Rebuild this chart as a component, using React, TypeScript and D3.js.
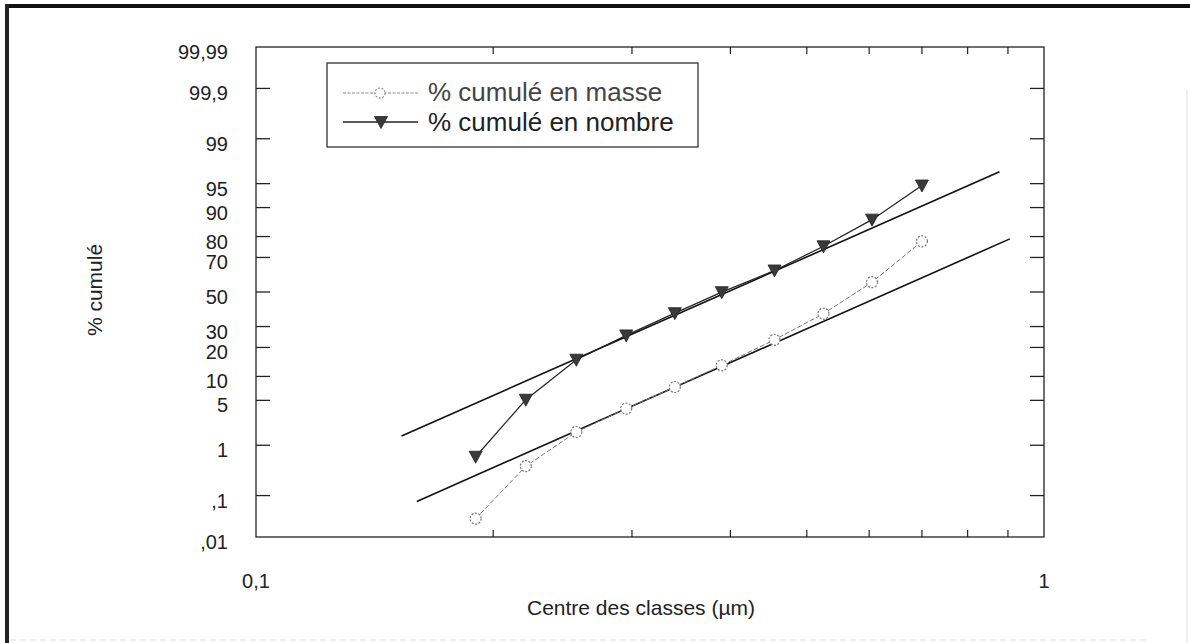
import React from "react";
import * as d3 from "d3";

// ---- data ----
const classCentres = [0.19, 0.22, 0.255, 0.295, 0.34, 0.39, 0.455, 0.525, 0.605, 0.7];
const cumNombre = [0.62, 5.1, 15.2, 25.5, 37.4, 49.9, 62.8, 75.6, 86.4, 94.7];
const cumMasse = [0.029, 0.41, 1.68, 3.84, 7.46, 13.3, 23.4, 37.1, 55.9, 77.9];
const fitNombreX = [0.153, 0.878];
const fitNombreP = [1.44, 96.6];
const fitMasseX = [0.16, 0.905];
const fitMasseP = [0.074, 79.0];
const yTickValues = [0.01, 0.1, 1, 5, 10, 20, 30, 50, 70, 80, 90, 95, 99, 99.9, 99.99];
const yTickLabels = [",01", ",1", "1", "5", "10", "20", "30", "50", "70", "80", "90", "95", "99", "99,9", "99,99"];
const xMinorTicks = [0.2, 0.3, 0.4, 0.5, 0.6, 0.7, 0.8, 0.9];
const xLabelValues = [0.1, 1];
const xLabelTexts = ["0,1", "1"];
const legendLabels = ["% cumulé en masse", "% cumulé en nombre"];

// inverse normal CDF (Acklam)
function probit(p: number): number {
  const a = [-3.969683028665376e1, 2.209460984245205e2, -2.759285104469687e2, 1.38357751867269e2, -3.066479806614716e1, 2.506628277459239];
  const b = [-5.447609879822406e1, 1.615858368580409e2, -1.556989798598866e2, 6.680131188771972e1, -1.328068155288572e1];
  const c = [-7.784894002430293e-3, -3.223964580411365e-1, -2.400758277161838, -2.549732539343734, 4.374664141464968, 2.938163982698783];
  const d = [7.784695709041462e-3, 3.224671290700398e-1, 2.445134137142996, 3.754408661907416];
  const pl = 0.02425;
  if (p < pl) {
    const q = Math.sqrt(-2 * Math.log(p));
    return (((((c[0] * q + c[1]) * q + c[2]) * q + c[3]) * q + c[4]) * q + c[5]) / ((((d[0] * q + d[1]) * q + d[2]) * q + d[3]) * q + 1);
  }
  if (p > 1 - pl) {
    const q = Math.sqrt(-2 * Math.log(1 - p));
    return -(((((c[0] * q + c[1]) * q + c[2]) * q + c[3]) * q + c[4]) * q + c[5]) / ((((d[0] * q + d[1]) * q + d[2]) * q + d[3]) * q + 1);
  }
  const q = p - 0.5;
  const r = q * q;
  return ((((((a[0] * r + a[1]) * r + a[2]) * r + a[3]) * r + a[4]) * r + a[5]) * q) / (((((b[0] * r + b[1]) * r + b[2]) * r + b[3]) * r + b[4]) * r + 1);
}

const W = 1190;
const H = 643;
const left = 256;
const right = 1044;
const top = 47;
const bottom = 537;

const x = d3.scaleLog().domain([0.1, 1]).range([left, right]);
const z = d3.scaleLinear().domain([probit(0.0001), probit(0.9999)]).range([bottom, top]);
const y = (p: number) => z(probit(p / 100));

const FONT = "'Liberation Sans', Arial, Helvetica, sans-serif";

export default function App() {
  const nombre = classCentres.map((c, i) => ({ x: c, p: cumNombre[i] }));
  const masse = classCentres.map((c, i) => ({ x: c, p: cumMasse[i] }));
  const line = d3
    .line<{ x: number; p: number }>()
    .x((d) => x(d.x))
    .y((d) => y(d.p));
  const fitN = fitNombreX.map((v, i) => ({ x: v, p: fitNombreP[i] }));
  const fitM = fitMasseX.map((v, i) => ({ x: v, p: fitMasseP[i] }));
  const tri = (cx: number, cy: number) => `M${cx - 6.5},${cy - 5.5}L${cx + 6.5},${cy - 5.5}L${cx},${cy + 6.5}Z`;
  const innerTicks = yTickValues.filter((v) => v !== 0.01 && v !== 99.99);

  return (
    <svg width={W} height={H} style={{ position: "absolute", left: 0, top: 0, background: "#fff" }} fontFamily={FONT}>
      {/* page frame */}
      <line x1={5} y1={6} x2={1190} y2={6} stroke="#111" strokeWidth={4} />
      <line x1={7} y1={4} x2={7} y2={643} stroke="#222" strokeWidth={4} />
      <line x1={1187} y1={90} x2={1187} y2={643} stroke="#ddd" strokeWidth={1} />
      <line x1={10} y1={640} x2={1150} y2={640} stroke="#ddd" strokeWidth={1} strokeDasharray="6,4" />

      {/* plot frame */}
      <rect x={left} y={top} width={right - left} height={bottom - top} fill="none" stroke="#222" strokeWidth={1.3} />

      {/* y ticks left & right */}
      {innerTicks.map((v) => (
        <g key={"yt" + v}>
          <line x1={left} x2={left + 14} y1={y(v)} y2={y(v)} stroke="#222" strokeWidth={1.3} />
          <line x1={right - 14} x2={right} y1={y(v)} y2={y(v)} stroke="#222" strokeWidth={1.3} />
        </g>
      ))}
      {yTickValues.map((v, i) => (
        <text key={"yl" + v} x={228} y={y(v) + 5} dy="0.35em" textAnchor="end" fontSize={20} fill="#222">
          {yTickLabels[i]}
        </text>
      ))}

      {/* x ticks bottom & top */}
      {xMinorTicks.map((v) => (
        <g key={"xt" + v}>
          <line x1={x(v)} x2={x(v)} y1={bottom} y2={bottom - 7} stroke="#222" strokeWidth={1.2} />
          <line x1={x(v)} x2={x(v)} y1={top} y2={top + 7} stroke="#222" strokeWidth={1.2} />
        </g>
      ))}
      {xLabelValues.map((v, i) => (
        <text key={"xl" + v} x={x(v)} y={581} dy="0.35em" textAnchor="middle" fontSize={20} fill="#222">
          {xLabelTexts[i]}
        </text>
      ))}

      {/* axis titles */}
      <text x={641} y={608} dy="0.35em" textAnchor="middle" fontSize={21} fill="#222">
        Centre des classes (µm)
      </text>
      <text transform="translate(95,290) rotate(-90)" dy="0.35em" textAnchor="middle" fontSize={21} fill="#222">
        % cumulé
      </text>

      {/* fit lines */}
      <path d={line(fitN) || ""} fill="none" stroke="#111" strokeWidth={1.6} />
      <path d={line(fitM) || ""} fill="none" stroke="#111" strokeWidth={1.6} />

      {/* masse series */}
      <path d={line(masse) || ""} fill="none" stroke="#777" strokeWidth={1} strokeDasharray="5,2" />
      {masse.map((d, i) => (
        <circle key={"m" + i} cx={x(d.x)} cy={y(d.p)} r={5.5} fill="#fff" stroke="#777" strokeWidth={1.2} strokeDasharray="2,1.5" />
      ))}

      {/* nombre series */}
      <path d={line(nombre) || ""} fill="none" stroke="#222" strokeWidth={1.2} />
      {nombre.map((d, i) => (
        <path key={"n" + i} d={tri(x(d.x), y(d.p))} fill="#3a3a3a" stroke="#222" strokeWidth={0.8} />
      ))}

      {/* legend */}
      <rect x={327} y={63} width={371} height={84} fill="#fff" stroke="#222" strokeWidth={1.2} />
      <line x1={343} x2={418} y1={93} y2={93} stroke="#888" strokeWidth={1} strokeDasharray="3,1.5" />
      <circle cx={380} cy={93} r={5} fill="#fff" stroke="#888" strokeWidth={1.1} strokeDasharray="2,1.5" />
      <text x={428} y={101} fontSize={26} fill="#444">
        {legendLabels[0]}
      </text>
      <line x1={343} x2={418} y1={122} y2={122} stroke="#222" strokeWidth={1.3} />
      <path d={tri(381, 122)} fill="#3a3a3a" stroke="#222" strokeWidth={0.8} />
      <text x={428} y={131} fontSize={26} fill="#222">
        {legendLabels[1]}
      </text>
    </svg>
  );
}
